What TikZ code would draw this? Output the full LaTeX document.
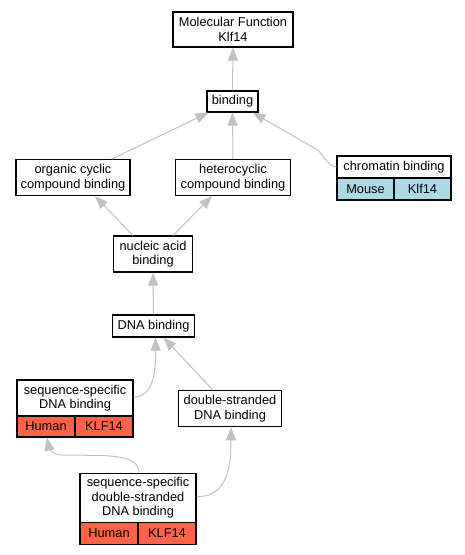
\documentclass[tikz,border=0pt]{standalone}
\usepackage{fontspec}
\setmainfont{Liberation Sans}
\usetikzlibrary{arrows.meta,calc}
\definecolor{edgegray}{HTML}{C0C0C0}
\definecolor{humanred}{HTML}{FF6347}
\definecolor{mouseblue}{HTML}{ADD8E6}
\tikzset{
  box/.style={draw=black, line width=1.1pt, fill=white, inner sep=0pt, align=center,
    font=\fontsize{12.8}{14.5}\selectfont},
  human/.style={box, fill=humanred},
  mouse/.style={box, fill=mouseblue},
  edge/.style={draw=edgegray, line width=1pt, -{Triangle[length=13pt,width=10pt]}, color=edgegray},
}
\begin{document}
\begin{tikzpicture}[x=1pt,y=-1pt]
\useasboundingbox (0,0) rectangle (465,555);
% nodes
\node[box, minimum width=120pt, minimum height=35pt] (mf) at (233,29.5) {Molecular Function\\Klf14};
\node[box, minimum width=51pt, minimum height=21pt] (bind) at (232.5,101.5) {binding};
\node[box, minimum width=114pt, minimum height=36pt] (org) at (73,177.5) {organic cyclic\\compound binding};
\node[box, minimum width=115pt, minimum height=36pt] (het) at (233,177.5) {heterocyclic\\compound binding};
\node[box, minimum width=114pt, minimum height=22pt] (chrom) at (394,167) {chromatin binding};
\node[mouse, minimum width=57pt, minimum height=22pt] (chromA) at (365.5,189) {Mouse};
\node[mouse, minimum width=57pt, minimum height=22pt] (chromB) at (422.5,189) {Klf14};
\node[box, minimum width=79pt, minimum height=36pt] (nuc) at (153,254) {nucleic acid\\binding};
\node[box, minimum width=82pt, minimum height=22pt] (dna) at (153.5,326) {DNA binding};
\node[box, minimum width=116pt, minimum height=36pt] (ss) at (75,398) {sequence-specific\\DNA binding};
\node[human, minimum width=58pt, minimum height=21pt] (ssA) at (46,426.5) {Human};
\node[human, minimum width=58pt, minimum height=21pt] (ssB) at (104,426.5) {KLF14};
\node[box, minimum width=103pt, minimum height=36pt] (ds) at (230,408.7) {double-stranded\\DNA binding};
\node[box, minimum width=116pt, minimum height=49pt] (ssds) at (138,497.7) {sequence-specific\\double-stranded\\DNA binding};
\node[human, minimum width=58pt, minimum height=22pt] (ssdsA) at (109,533.2) {Human};
\node[human, minimum width=58pt, minimum height=22pt] (ssdsB) at (167,533.2) {KLF14};
% edges
\draw[edge] (bind.north) -- (mf.south);
\draw[edge] ($(org.north)+(39,0)$) -- ($(bind.south west)+(2,0)$);
\draw[edge] (het.north) -- (bind.south);
\draw[edge] (chrom.west) .. controls (327,166) and (322,152) .. (316,149) -- ($(bind.south east)+(-6,0)$);
\draw[edge] ($(nuc.north west)+(20,0)$) -- ($(org.south)+(22,0)$);
\draw[edge] ($(nuc.north east)+(-20,0)$) -- ($(het.south)+(-21,0)$);
\draw[edge] (dna.north) -- (nuc.south);
\draw[edge] ($(ss.east)+(0,-1)$) .. controls (152,397) and (156,375) .. ($(dna.south)+(2,0)$);
\draw[edge] ($(ds.north)+(-17,0)$) -- ($(dna.south)+(10,0)$);
\draw[edge] ($(ssds.north)+(1,0)$) .. controls (139,452) and (100,456) .. (62,455) .. controls (52,455) and (49,448) .. ($(ssA.south)+(1,0)$);
\draw[edge] ($(ssds.east)+(0,-1)$) .. controls (226,497) and (231,470) .. ($(ds.south)+(1,0)$);
\end{tikzpicture}
\end{document}
